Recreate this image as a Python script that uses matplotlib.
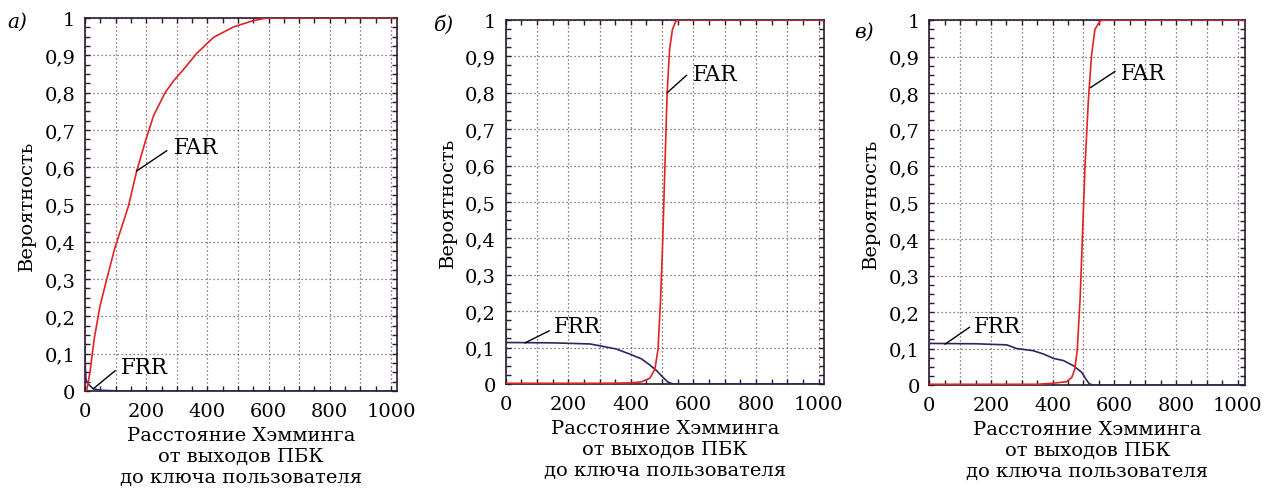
import numpy as np
import matplotlib.pyplot as plt
from matplotlib.ticker import MultipleLocator, FixedLocator, FixedFormatter

plt.rcParams['font.family'] = ['DejaVu Serif']

# панель а)
a_far_x = [0, 5, 16, 30, 49, 71, 98, 120, 142, 169, 196, 224, 262, 290, 322, 365, 420, 485, 551, 594, 1020]
a_far_y = [0, 0.0, 0.05, 0.14, 0.228, 0.30, 0.385, 0.44, 0.496, 0.59, 0.666, 0.738, 0.80, 0.832, 0.862, 0.905, 0.948, 0.976, 0.993, 1.0, 1.0]
a_frr_x = [0, 1, 3, 11, 27, 49, 100, 147, 1020]
a_frr_y = [0.103, 0.06, 0.03, 0.018, 0.006, 0.002, 0.0005, 0, 0]

# панель б)
b_far_x = [0, 300, 397, 434, 461, 477, 487, 495, 501, 509, 516, 524, 533, 544, 556, 1017]
b_far_y = [0.002, 0.002, 0.003, 0.006, 0.016, 0.041, 0.096, 0.233, 0.37, 0.60, 0.80, 0.92, 0.974, 0.997, 1.0, 1.0]
b_frr_x = [0, 150, 269, 301, 354, 397, 434, 461, 482, 503, 519, 535, 1017]
b_frr_y = [0.114, 0.113, 0.11, 0.105, 0.096, 0.082, 0.069, 0.052, 0.037, 0.018, 0.005, 0, 0]

# панель в)
c_far_x = [0, 350, 402, 445, 462, 472, 480, 489, 497, 505, 516, 526, 537, 554, 575, 1024]
c_far_y = [0.002, 0.002, 0.005, 0.009, 0.021, 0.044, 0.099, 0.235, 0.418, 0.60, 0.783, 0.902, 0.974, 0.998, 1.0, 1.0]
c_frr_x = [0, 150, 251, 283, 337, 370, 402, 435, 467, 494, 508, 519, 532, 1024]
c_frr_y = [0.114, 0.113, 0.11, 0.10, 0.094, 0.085, 0.073, 0.067, 0.053, 0.035, 0.016, 0.003, 0, 0]

letters = ['а)', 'б)', 'в)']
x_ticks = [0, 100, 200, 300, 400, 500, 600, 700, 800, 900, 1000]
x_labels = ['0', '', '200', '', '400', '', '600', '', '800', '', '1000']
y_ticks = [0, 0.1, 0.2, 0.3, 0.4, 0.5, 0.6, 0.7, 0.8, 0.9, 1.0]
y_labels = ['0', '0,1', '0,2', '0,3', '0,4', '0,5', '0,6', '0,7', '0,8', '0,9', '1']

# подписи: (точка на кривой, конец выноски, начало текста)
far_notes = [((169, 0.59), (267, 0.644), (289, 0.653)),
             ((516, 0.80), (578, 0.848), (599, 0.851)),
             ((523, 0.815), (602, 0.859), (622, 0.854))]
frr_notes = [((27, 0.006), (98, 0.054), (117, 0.063)),
             ((62, 0.113), (139, 0.146), (155, 0.158)),
             ((51, 0.112), (130, 0.158), (146, 0.161))]

positions = [[0.0667, 0.1984, 0.2447, 0.7628],
             [0.3966, 0.2127, 0.2496, 0.7444],
             [0.7289, 0.2106, 0.2476, 0.7464]]
xmax = [1020, 1017, 1024]
letter_pos = [(0.006, 0.955), (0.340, 0.950), (0.670, 0.935)]

fig = plt.figure(figsize=(12.75, 4.89), dpi=100)

data = [(a_far_x, a_far_y, a_frr_x, a_frr_y),
        (b_far_x, b_far_y, b_frr_x, b_frr_y),
        (c_far_x, c_far_y, c_frr_x, c_frr_y)]

grid_color = '#7a4a5c'
edge_color = '#2a1a30'

for i in range(3):
    ax = fig.add_axes(positions[i])
    far_x, far_y, frr_x, frr_y = data[i]

    ax.plot(frr_x, frr_y, color='#2b2566', linewidth=1.2, zorder=3)
    ax.plot(far_x, far_y, color='#e32222', linewidth=1.2, zorder=4)

    ax.set_xlim(0, xmax[i])
    ax.set_ylim(0, 1)

    ax.xaxis.set_major_locator(FixedLocator(x_ticks))
    ax.xaxis.set_major_formatter(FixedFormatter(x_labels))
    ax.yaxis.set_major_locator(FixedLocator(y_ticks))
    ax.yaxis.set_major_formatter(FixedFormatter(y_labels))
    ax.xaxis.set_minor_locator(MultipleLocator(50))
    ax.yaxis.set_minor_locator(MultipleLocator(0.025))

    ax.grid(True, which='major', linestyle=(0, (1.0, 2.2)), color=grid_color, linewidth=0.9)
    ax.tick_params(which='both', direction='in', top=True, right=True,
                   color=edge_color, width=1.0, length=3.5, labelsize=14)
    ax.tick_params(axis='y', which='major', pad=7)
    ax.tick_params(axis='x', which='major', pad=8)
    for sp in ax.spines.values():
        sp.set_color(edge_color)
        sp.set_linewidth(1.2)

    ax.set_ylabel('Вероятность', fontsize=14, labelpad=6)
    ax.set_xlabel('Расстояние Хэмминга\nот выходов ПБК\nдо ключа пользователя',
                  fontsize=14, linespacing=1.22, labelpad=4)

    for note, name in ((far_notes[i], 'FAR'), (frr_notes[i], 'FRR')):
        p0, p1, pt = note
        ax.plot([p0[0], p1[0]], [p0[1], p1[1]], color='k', linewidth=1.0, zorder=5)
        ax.text(pt[0], pt[1], name, fontsize=15.5, ha='left', va='center', zorder=6)

    fig.text(letter_pos[i][0], letter_pos[i][1], letters[i], fontsize=14.5,
             style='italic', ha='left', va='center')

fig.savefig('out.png', dpi=100)
